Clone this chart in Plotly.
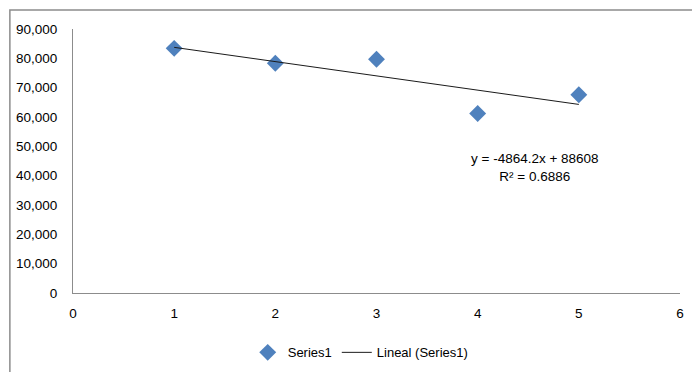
import plotly.graph_objects as go

# Observations
x_vals = [1, 2, 3, 4, 5]
y_vals = [83400, 78300, 79700, 61200, 67600]

# Linear trendline coefficients and fit quality
slope = -4864.2
intercept = 88608
r_squared = 0.6886

x_ticks = [0, 1, 2, 3, 4, 5, 6]
y_ticks = [0, 10000, 20000, 30000, 40000, 50000, 60000, 70000, 80000, 90000]

FONT = "Liberation Sans Narrow, Liberation Sans, Arial, sans-serif"
AXIS_GREY = "#8c8c8c"

trend_x = [x_vals[0], x_vals[-1]]
trend_y = [slope * v + intercept for v in trend_x]

fig = go.Figure()
fig.add_trace(go.Scatter(
    x=x_vals, y=y_vals, mode="markers", name="Series1",
    marker=dict(symbol="diamond", size=13, color="#4F81BD",
                line=dict(width=0)),
))
fig.add_trace(go.Scatter(
    x=trend_x, y=trend_y, mode="lines", name="Lineal (Series1)",
    line=dict(color="#1a1a1a", width=1),
))

fig.add_annotation(
    x=4.57, y=42900, xref="x", yref="y",
    text=f"y = {slope}x + {intercept}<br>R² = {r_squared}",
    showarrow=False, align="center",
    font=dict(family=FONT, size=13.5, color="#000000"),
)

# Outer chart frame
fig.add_shape(
    type="rect", xref="paper", yref="paper",
    x0=-0.104, x1=1.03, y0=-0.4, y1=1.072,
    line=dict(color=AXIS_GREY, width=1.5), fillcolor="rgba(0,0,0,0)",
    layer="below",
)

fig.update_layout(
    width=692, height=372,
    margin=dict(l=73, r=12, t=29, b=79, autoexpand=False),
    paper_bgcolor="white", plot_bgcolor="white",
    font=dict(family=FONT, size=13.5, color="#000000"),
    showlegend=True,
    legend=dict(orientation="h", x=0.474, y=-0.225, xanchor="center",
                yanchor="middle", font=dict(family=FONT, size=13),
                itemwidth=30, tracegroupgap=0),
)
fig.update_xaxes(
    range=[0, 6], tickvals=x_ticks, showgrid=False, zeroline=False,
    showline=True, linecolor=AXIS_GREY, linewidth=1, ticks="",
    ticklabelstandoff=8, automargin=False,
)
fig.update_yaxes(
    range=[0, 90000], tickvals=y_ticks, tickformat=",", showgrid=False,
    zeroline=False, showline=True, linecolor=AXIS_GREY, linewidth=1,
    ticks="", ticklabelstandoff=12, automargin=False,
)

fig.write_html("out.html")
